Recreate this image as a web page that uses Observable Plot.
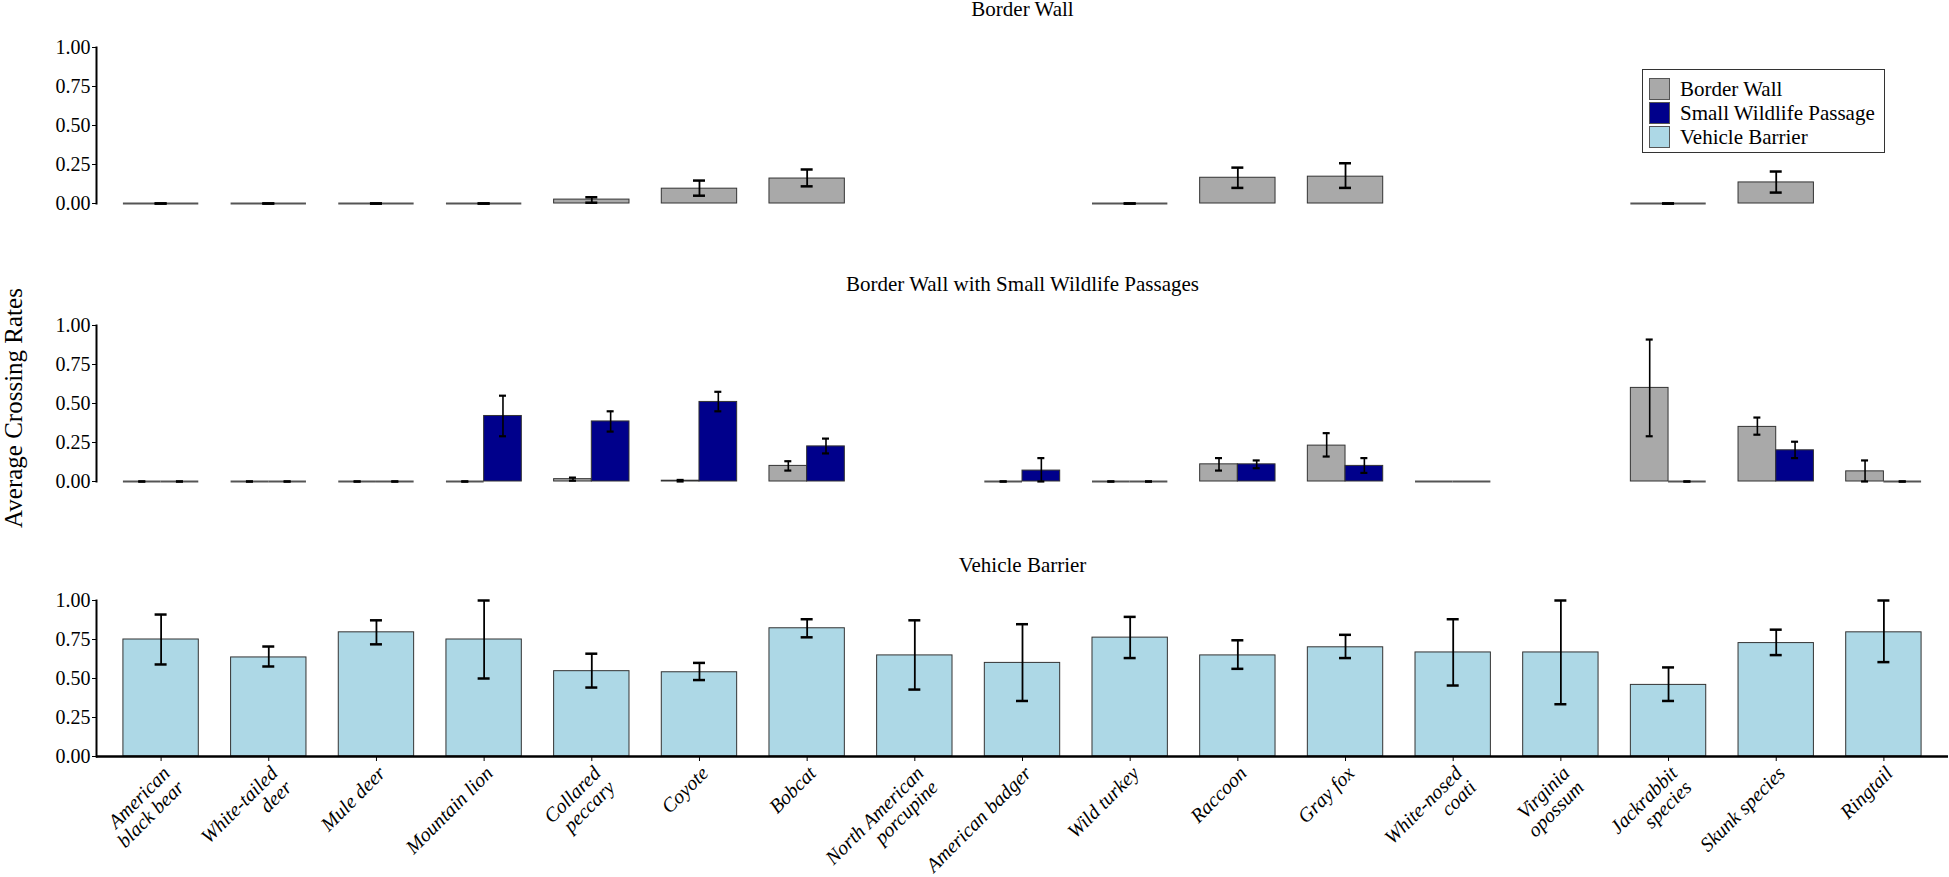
<!DOCTYPE html>
<html>
<head>
<meta charset="utf-8">
<script src="https://cdn.jsdelivr.net/npm/d3@7"></script>
<script src="https://cdn.jsdelivr.net/npm/@observablehq/plot@0.6"></script>
<style>
  body { margin: 0; background: #fff; }
  #chart { position: relative; width: 1949px; height: 877px; background: #fff;
           font-family: "Liberation Serif", "Times New Roman", serif; color: #000; }
  .panel { position: absolute; left: 0; }
  .panel text { font-family: "Liberation Serif", "Times New Roman", serif; }
  #ytitle { position: absolute; left: 14px; top: 408px; transform: translate(-50%, -50%) rotate(-90deg);
            font-family: "Liberation Serif", "Times New Roman", serif; font-size: 25px; white-space: nowrap; }
  #legend { position: absolute; left: 1642px; top: 69px; width: 243px; height: 84px;
            border: 1px solid #333; background: #fff; box-sizing: border-box; padding: 7px 0 0 6px; }
  .lrow { display: flex; align-items: center; height: 24px; }
  .lkey { width: 21px; height: 22px; border: 1px solid #555; box-sizing: border-box; margin-right: 10px; }
  .ltxt { font-size: 21px; line-height: 21px; white-space: nowrap; }
</style>
</head>
<body>
<div id="chart">
  <div id="ytitle">Average Crossing Rates</div>
</div>
<script>
// ---------- data ----------
const species = ["American black bear", "White-tailed deer", "Mule deer", "Mountain lion", "Collared peccary",
  "Coyote", "Bobcat", "North American porcupine", "American badger", "Wild turkey", "Raccoon", "Gray fox",
  "White-nosed coati", "Virginia opossum", "Jackrabbit species", "Skunk species", "Ringtail"];
const tickLabels = ["American\nblack bear", "White-tailed\ndeer", "Mule deer", "Mountain lion", "Collared\npeccary",
  "Coyote", "Bobcat", "North American\nporcupine", "American badger", "Wild turkey", "Raccoon", "Gray fox",
  "White-nosed\ncoati", "Virginia\nopossum", "Jackrabbit\nspecies", "Skunk species", "Ringtail"];
const yTicks = [0, 0.25, 0.5, 0.75, 1];

const seriesNames = ["Border Wall", "Small Wildlife Passage", "Vehicle Barrier"];
const seriesColors = ["#A9A9A9", "#00008B", "#ADD8E6"];
const panelTitles = ["Border Wall", "Border Wall with Small Wildlife Passages", "Vehicle Barrier"];

// Panel 1: Border Wall (Border Wall series)
const bwMean = [0, 0, 0, 0, 0.025, 0.095, 0.16, null, null, 0, 0.165, 0.172, null, null, 0, 0.135, null];
const bwLow  = [0, 0, 0, 0, 0.005, 0.05, 0.11, null, null, 0, 0.10, 0.10, null, null, 0, 0.07, null];
const bwHigh = [0, 0, 0, 0, 0.04, 0.147, 0.218, null, null, 0, 0.23, 0.258, null, null, 0, 0.205, null];

// Panel 2: Border Wall with Small Wildlife Passages
const swWallMean = [0, 0, 0, 0, 0.015, 0.005, 0.10, null, 0, 0, 0.11, 0.23, 0, null, 0.60, 0.35, 0.065];
const swWallLow  = [0, 0, 0, 0, 0.005, 0, 0.07, null, 0, 0, 0.07, 0.16, null, null, 0.29, 0.30, 0];
const swWallHigh = [0, 0, 0, 0, 0.025, 0.01, 0.13, null, 0, 0, 0.15, 0.31, null, null, 0.91, 0.41, 0.135];
const swPassMean = [0, 0, 0, 0.42, 0.385, 0.51, 0.225, null, 0.07, 0, 0.11, 0.10, 0, null, 0, 0.20, 0];
const swPassLow  = [0, 0, 0, 0.29, 0.32, 0.45, 0.18, null, 0, 0, 0.085, 0.055, null, null, 0, 0.15, 0];
const swPassHigh = [0, 0, 0, 0.55, 0.45, 0.575, 0.275, null, 0.15, 0, 0.135, 0.15, null, null, 0, 0.255, 0];

// Panel 3: Vehicle Barrier
const vbMean = [0.75, 0.635, 0.796, 0.75, 0.547, 0.54, 0.822, 0.648, 0.60, 0.762, 0.648, 0.70, 0.667, 0.667, 0.459, 0.727, 0.796];
const vbLow  = [0.59, 0.577, 0.719, 0.50, 0.442, 0.49, 0.764, 0.429, 0.356, 0.631, 0.562, 0.631, 0.455, 0.335, 0.356, 0.65, 0.605];
const vbHigh = [0.91, 0.705, 0.873, 1.00, 0.659, 0.60, 0.88, 0.873, 0.848, 0.895, 0.745, 0.78, 0.88, 1.00, 0.571, 0.813, 1.00];

// ---------- layout ----------
const W = 1949, ML = 96, MR = 1;
const padIn = 0.3, padOut = 0.25;
const step = (W - ML - MR) / (species.length - padIn + 2 * padOut);
const bw = step * (1 - padIn);
const FONT = '"Liberation Serif", "Times New Roman", serif';

function rows(mean, lo, hi) {
  return species.map((s, i) => ({species: s, mean: mean[i], lo: lo[i], hi: hi[i]})).filter(d => d.mean != null);
}

// marks for one series; part: 0 = full band, 1 = left half, 2 = right half
function seriesMarks(data, color, part, cap, ruleW, capW) {
  const half = bw / 2;
  const inL = part === 2 ? half : 0, inR = part === 1 ? half : 0;
  const dx = part === 1 ? -bw / 4 : part === 2 ? bw / 4 : 0;
  const center = part === 0 ? bw / 2 : bw / 4;
  const capL = (part === 2 ? half : 0) + center - cap / 2;
  const capR = (part === 1 ? half : 0) + center - cap / 2;
  const withErr = data.filter(d => d.lo != null && d.hi != null);
  return [
    Plot.barY(data.filter(d => d.mean > 0), {x: "species", y: "mean", fill: color, stroke: "#333", strokeWidth: 1,
      insetLeft: inL, insetRight: inR}),
    Plot.tickY(data.filter(d => d.mean === 0), {x: "species", y: "mean", stroke: "#555", strokeWidth: 2.2,
      insetLeft: inL, insetRight: inR}),
    Plot.ruleX(withErr.filter(d => d.hi > d.lo), {x: "species", y1: "lo", y2: "hi", dx, stroke: "black", strokeWidth: ruleW}),
    Plot.tickY(withErr, {x: "species", y: "lo", insetLeft: capL, insetRight: capR, stroke: "black", strokeWidth: capW}),
    Plot.tickY(withErr, {x: "species", y: "hi", insetLeft: capL, insetRight: capR, stroke: "black", strokeWidth: capW})
  ];
}

function panel({title, top, marginTop, marginBottom, titleDy, marks, xAxis}) {
  const height = marginTop + 156 + marginBottom;
  const p = Plot.plot({
    width: W, height, marginLeft: ML, marginRight: MR, marginTop, marginBottom,
    style: {fontFamily: FONT, color: "black", background: "transparent", overflow: "visible"},
    x: {type: "band", domain: species, paddingInner: padIn, paddingOuter: padOut, round: false, axis: null},
    y: {domain: [0, 1], axis: null},
    marks: [
      ...marks,
      Plot.frame({anchor: "left", stroke: "black", strokeWidth: 2}),
      Plot.axisY({ticks: yTicks, tickFormat: d3.format(".2f"), tickSize: 4, tickPadding: 2, fontSize: 20,
        fontFamily: FONT, fill: "black", stroke: "black", label: null}),
      Plot.text([title], {frameAnchor: "top", dy: titleDy, lineAnchor: "bottom", fontSize: 21,
        fontFamily: FONT, fill: "black"}),
      ...(xAxis ? [
        Plot.ruleY([0], {stroke: "black", strokeWidth: 2.5}),
        Plot.axisX({tickFormat: d => tickLabels[species.indexOf(d)], tickRotate: -45, textAnchor: "end",
          lineAnchor: "top", tickSize: 5, tickPadding: 3, fontSize: 20, fontStyle: "italic", fontFamily: FONT,
          fill: "black", stroke: "black", label: null})
      ] : [])
    ]
  });
  p.classList.add("panel");
  p.style.top = top + "px";
  return p;
}

const chart = document.getElementById("chart");

chart.appendChild(panel({
  title: panelTitles[0], top: 0, marginTop: 47, marginBottom: 20, titleDy: -32,
  marks: seriesMarks(rows(bwMean, bwLow, bwHigh), seriesColors[0], 0, 12, 1.8, 2.5)
}));

chart.appendChild(panel({
  title: panelTitles[1], top: 240, marginTop: 85, marginBottom: 10, titleDy: -35,
  marks: [
    ...seriesMarks(rows(swWallMean, swWallLow, swWallHigh), seriesColors[0], 1, 7, 1.6, 2.2),
    ...seriesMarks(rows(swPassMean, swPassLow, swPassHigh), seriesColors[1], 2, 7, 1.6, 2.2)
  ]
}));

chart.appendChild(panel({
  title: panelTitles[2], top: 520, marginTop: 80, marginBottom: 121, titleDy: -29,
  marks: seriesMarks(rows(vbMean, vbLow, vbHigh), seriesColors[2], 0, 12, 1.8, 2.5),
  xAxis: true
}));

// legend
const legend = document.createElement("div");
legend.id = "legend";
seriesNames.forEach((name, i) => {
  const r = document.createElement("div");
  r.className = "lrow";
  const k = document.createElement("span");
  k.className = "lkey";
  k.style.background = seriesColors[i];
  const t = document.createElement("span");
  t.className = "ltxt";
  t.textContent = name;
  r.appendChild(k); r.appendChild(t);
  legend.appendChild(r);
});
chart.appendChild(legend);
</script>
</body>
</html>
